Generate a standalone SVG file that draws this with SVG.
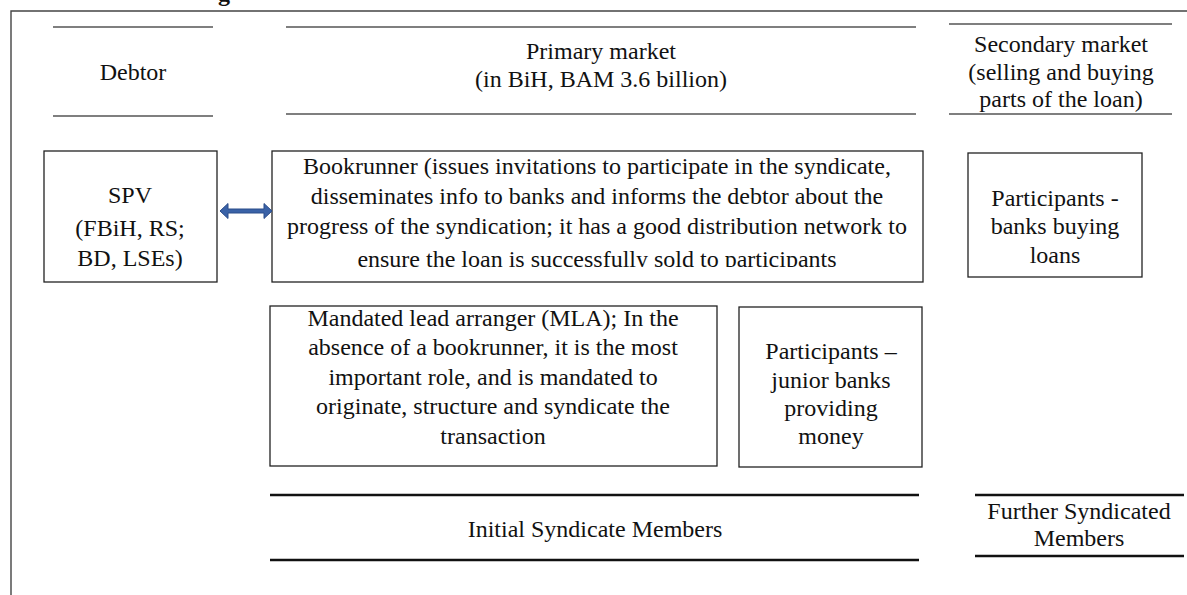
<svg xmlns="http://www.w3.org/2000/svg" width="1187" height="595" viewBox="0 0 1187 595">
  <style>
    .t { font-family: "Liberation Serif", "Times New Roman", serif; font-size: 24px; fill: #111; text-anchor: middle; }
    .rule { stroke: #555; stroke-width: 1.6; fill: none; }
    .rule-dark { stroke: #111; stroke-width: 2.4; fill: none; }
    .box { fill: #fff; stroke: #222; stroke-width: 1.3; }
    .frame { stroke: #444; stroke-width: 1.4; fill: none; }
  </style>
  <defs>
    <clipPath id="bookrunner-clip">
      <rect x="272" y="151" width="651" height="116"/>
    </clipPath>
  </defs>

  <rect x="0" y="0" width="1187" height="595" fill="#fff"/>

  <!-- heading descender peeking above the frame -->
  <text x="224" y="1" style="font-family: 'Liberation Serif', serif; font-size: 24px; font-weight: bold; fill: #111;" text-anchor="middle">g</text>

  <!-- outer frame -->
  <path class="frame" d="M11 595 V11 H1187"/>

  <!-- column headers -->
  <g id="debtor-header">
    <line class="rule" x1="53" y1="27" x2="213" y2="27"/>
    <line class="rule" x1="53" y1="116" x2="213" y2="116"/>
    <text class="t" x="133" y="80">Debtor</text>
  </g>

  <g id="primary-header">
    <line class="rule" x1="286" y1="27" x2="916" y2="27"/>
    <line class="rule" x1="286" y1="114" x2="916" y2="114"/>
    <text class="t" x="601" y="59">Primary market</text>
    <text class="t" x="601" y="87">(in BiH, BAM 3.6 billion)</text>
  </g>

  <g id="secondary-header">
    <line class="rule" x1="949" y1="24" x2="1172" y2="24"/>
    <line class="rule" x1="949" y1="114" x2="1172" y2="114"/>
    <text class="t" x="1061" y="52">Secondary market</text>
    <text class="t" x="1061" y="80">(selling and buying</text>
    <text class="t" x="1061" y="107">parts of the loan)</text>
  </g>

  <!-- nodes -->
  <g id="spv">
    <rect class="box" x="44" y="151" width="173" height="131"/>
    <text class="t" x="130" y="203">SPV</text>
    <text class="t" x="130" y="236">(FBiH, RS;</text>
    <text class="t" x="130" y="266">BD, LSEs)</text>
  </g>

  <g id="bookrunner">
    <rect class="box" x="272" y="151" width="651" height="131"/>
    <g clip-path="url(#bookrunner-clip)">
      <text class="t" x="597" y="174">Bookrunner (issues invitations to participate in the syndicate,</text>
      <text class="t" x="597" y="204">disseminates info to banks and informs the debtor about the</text>
      <text class="t" x="597" y="234">progress of the syndication; it has a good distribution network to</text>
      <text class="t" x="597" y="267">ensure the loan is successfully sold to participants</text>
    </g>
  </g>

  <g id="participants-buying">
    <rect class="box" x="968" y="153" width="174" height="124"/>
    <text class="t" x="1055" y="206">Participants -</text>
    <text class="t" x="1055" y="234">banks buying</text>
    <text class="t" x="1055" y="263">loans</text>
  </g>

  <g id="mla">
    <rect class="box" x="270" y="306" width="447" height="160"/>
    <text class="t" x="493" y="326">Mandated lead arranger (MLA); In the</text>
    <text class="t" x="493" y="355">absence of a bookrunner, it is the most</text>
    <text class="t" x="493" y="385">important role, and is mandated to</text>
    <text class="t" x="493" y="414">originate, structure and syndicate the</text>
    <text class="t" x="493" y="444">transaction</text>
  </g>

  <g id="participants-junior">
    <rect class="box" x="739" y="307" width="183" height="160"/>
    <text class="t" x="831" y="359">Participants –</text>
    <text class="t" x="831" y="388">junior banks</text>
    <text class="t" x="831" y="416">providing</text>
    <text class="t" x="831" y="444">money</text>
  </g>

  <!-- footer bands -->
  <g id="initial-members">
    <line class="rule-dark" x1="270" y1="495" x2="919" y2="495"/>
    <line class="rule-dark" x1="270" y1="560" x2="919" y2="560"/>
    <text class="t" x="595" y="537">Initial Syndicate Members</text>
  </g>

  <g id="further-members">
    <line class="rule-dark" x1="975" y1="495" x2="1184" y2="495"/>
    <line class="rule-dark" x1="975" y1="556" x2="1184" y2="556"/>
    <text class="t" x="1079" y="519">Further Syndicated</text>
    <text class="t" x="1079" y="546">Members</text>
  </g>

  <!-- connectors -->
  <g id="connectors">
    <polygon points="220,211 228,203.5 228,209 264,209 264,203.5 272,211 264,218.5 264,213 228,213 228,218.5" fill="#3a62a7" stroke="#2b4c8a" stroke-width="1"/>
  </g>
</svg>
